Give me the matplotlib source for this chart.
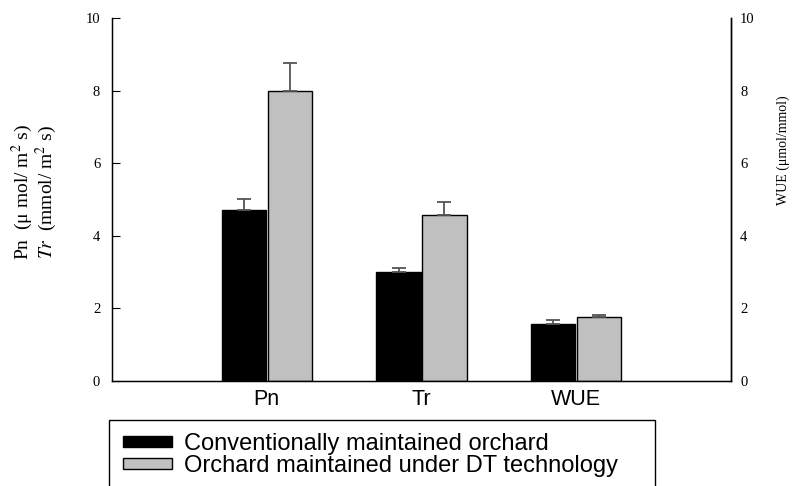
import numpy as np
import matplotlib.pyplot as plt
from matplotlib.patches import Rectangle

categories = ["Pn", "Tr", "WUE"]
conventional = [4.7, 3.0, 1.58]
conventional_err = [0.3, 0.1, 0.1]
dt_tech = [8.0, 4.57, 1.76]
dt_tech_err = [0.77, 0.37, 0.07]
labels = ["Conventionally maintained orchard", "Orchard maintained under DT technology"]

plt.rcParams['font.family'] = ['Liberation Serif', 'DejaVu Serif']
plt.rcParams['mathtext.fontset'] = 'stix'

fig = plt.figure(figsize=(7.95, 4.86), dpi=100)
ax = fig.add_axes([112/795, 1-381/486, (731-112)/795, (381-18)/486])

x = np.arange(1, len(categories)+1)
w = 0.285
gap = 0.006
zeros = np.zeros(len(categories))
b1 = ax.bar(x - w/2 - gap, conventional, w, color='black', edgecolor='black', linewidth=1,
            yerr=[zeros, conventional_err], capsize=5,
            error_kw=dict(ecolor='#555555', elinewidth=1.3, capthick=1.3))
b2 = ax.bar(x + w/2 + gap, dt_tech, w, color='#c0c0c0', edgecolor='black', linewidth=1,
            yerr=[zeros, dt_tech_err], capsize=5,
            error_kw=dict(ecolor='#555555', elinewidth=1.3, capthick=1.3))

ax.set_xlim(0, 4)
ax.set_ylim(0, 10)
ax.set_xticks(x)
ax.set_xticklabels(categories, family=['Liberation Sans'], fontsize=15.5)
ax.tick_params(axis='x', length=0, pad=5.8)
ax.set_yticks(np.arange(0, 11, 2))
ax.tick_params(axis='y', direction='in', length=6, pad=8.5, labelsize=10.5)
ax.spines['top'].set_visible(False)
for s in ax.spines.values():
    s.set_linewidth(1)

ax2 = ax.twinx()
ax2.set_ylim(0, 10)
ax2.set_yticks(np.arange(0, 11, 2))
ax2.tick_params(axis='y', length=0, pad=6.5, labelsize=10.5)
ax2.spines['top'].set_visible(False)
ax2.spines['right'].set_linewidth(1)

fig.text(22/795, 1-192/486, "Pn  (μ mol/ m$^2$ s)", rotation=90, ha='center', va='center', fontsize=14)
fig.text(46/795, 1-192/486, "$\\mathit{Tr}$  (mmol/ m$^2$ s)", rotation=90, ha='center', va='center', fontsize=14)
fig.text(783/795, 1-150/486, "WUE (μmol/mmol)", rotation=90, ha='center', va='center', fontsize=10)

leg = fig.legend([b1.patches[0], b2.patches[0]], labels, loc='upper left',
                 bbox_to_anchor=(111/795, 1-421/486), frameon=False, borderpad=0,
                 prop=dict(family='Liberation Sans', size=17),
                 handlelength=2.1, handleheight=0.36, handletextpad=0.5, labelspacing=0.0)
fig.patches.append(Rectangle((109/795, -0.05), (655-109)/795, 0.05+(486-420)/486,
                             transform=fig.transFigure, fill=False, edgecolor='black', linewidth=1))

plt.savefig('out.png', dpi=100)
